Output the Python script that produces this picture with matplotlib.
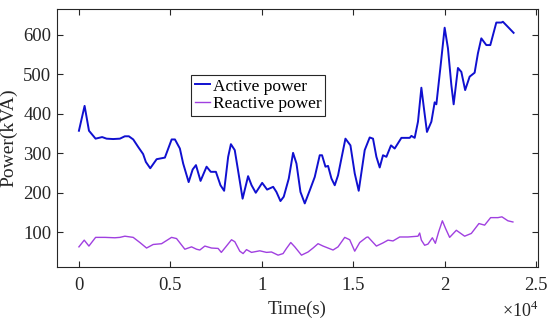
import matplotlib
matplotlib.use("Agg")
import matplotlib.pyplot as plt

plt.rcParams['font.family'] = ['Liberation Serif', 'DejaVu Serif']
plt.rcParams['mathtext.fontset'] = 'custom'
plt.rcParams['mathtext.rm'] = 'Liberation Serif'

active_t = [0, 310, 550, 910, 1270, 1510, 1870, 2240, 2510, 2730, 2970, 3240, 3510,
            3660, 3900, 4250, 4700, 5070, 5250, 5520, 5700, 6000, 6220, 6400, 6650,
            6980, 7210, 7490, 7740, 7940, 8160, 8310, 8520, 8700, 8950, 9250, 9440,
            9670, 10020, 10290, 10620, 10800, 11020, 11200, 11475, 11710, 11895, 12114,
            12349, 12622, 12895, 13168, 13294, 13480, 13622, 13808, 13988, 14168, 14354,
            14573, 14846, 15081, 15299, 15627, 15900, 16081, 16266, 16447, 16627, 16813,
            17064, 17266, 17632, 18086, 18179, 18359, 18540, 18725, 18867, 19031, 19272,
            19452, 19545, 19780, 19998, 20178, 20364, 20490, 20725, 20911, 21119, 21364,
            21637, 21817, 22003, 22276, 22495, 22823, 23096, 23184, 23457, 23768]
active_p = [357, 420, 357, 337, 341, 337, 336, 337, 343, 343, 335, 316, 298,
            278, 262, 285, 289, 335, 335, 312, 274, 227, 259, 270, 230,
            266, 253, 253, 219, 205, 291, 323, 308, 257, 185, 242, 219,
            200, 225, 208, 215, 202, 179, 190, 236, 301, 274, 202,
            173, 206, 240, 295, 295, 266, 268, 236, 219, 244, 287,
            337, 320, 249, 205, 308, 340, 337, 291, 264, 295, 291,
            320, 312, 339, 339, 344, 339, 380, 466, 413, 354, 380,
            429, 424, 523, 618, 566, 473, 424, 516, 506, 460, 494,
            504, 553, 591, 574, 574, 631, 631, 633, 620, 605]

reactive_t = [0, 290, 546, 912, 1421, 1967, 2240, 2513, 2967, 3333, 3699, 4060, 4519,
              4792, 5065, 5338, 5792, 6158, 6431, 6611, 6885, 7251, 7611, 7786, 8032,
              8343, 8524, 8797, 8977, 9163, 9437, 9890, 10256, 10529, 10890, 11163,
              11349, 11584, 11803, 12169, 12529, 12802, 13075, 13349, 13622, 13895,
              14168, 14534, 14807, 15081, 15354, 15720, 15808, 16266, 16627, 16900,
              17173, 17540, 17993, 18540, 18632, 18725, 18905, 19086, 19326, 19490,
              19670, 19873, 20053, 20271, 20637, 21091, 21457, 21872, 22184, 22512,
              22911, 23130, 23457, 23730]
reactive_p = [63, 80, 65, 87, 87, 86, 87, 90, 87, 74, 60, 69, 71,
              79, 87, 84, 57, 63, 57, 55, 65, 60, 59, 49, 63,
              81, 76, 52, 46, 56, 49, 53, 49, 50, 42, 46,
              59, 74, 63, 42, 50, 60, 71, 65, 60, 55,
              63, 87, 81, 52, 74, 87, 88, 65, 73, 80,
              78, 88, 88, 90, 98, 80, 67, 70, 86, 72,
              101, 129, 109, 87, 105, 90, 97, 122, 118, 137,
              137, 139, 129, 126]

x_ticks = [0, 5000, 10000, 15000, 20000, 25000]
x_ticklabels = ['0', '0.5', '1', '1.5', '2', '2.5']
y_ticks = [100, 200, 300, 400, 500, 600]

fig = plt.figure(figsize=(5.5, 3.26), dpi=100)
ax = fig.add_axes([0.1036, 0.181, 0.8745, 0.791])

ax.plot(active_t, active_p, color='#1010D0', lw=1.4, label='Active power')
ax.plot(reactive_t, reactive_p, color='#A040E0', lw=1.0, label='Reactive power')

ax.set_xlim(-1200, 25100)
ax.set_ylim(12, 665)
ax.set_xticks(x_ticks)
ax.set_xticklabels(x_ticklabels)
ax.set_yticks(y_ticks)

dark = '#262626'
for s in ax.spines.values():
    s.set_color(dark)
    s.set_linewidth(0.8)
ax.tick_params(direction='in', top=True, right=True, length=4, width=0.8,
               colors=dark, labelsize=13.5)
ax.tick_params(axis='x', pad=7)
ax.tick_params(axis='y', pad=4)

ax.set_xlabel('Time(s)', fontsize=13.5, color=dark, labelpad=5)
ax.set_ylabel('Power(kVA)', fontsize=14, color=dark, labelpad=4)
ax.text(1.0, -0.13, r'$\times10^{4}$', transform=ax.transAxes, ha='right',
        va='top', fontsize=13, color=dark)

leg = ax.legend(loc='upper left', bbox_to_anchor=(0.279, 0.745), fontsize=12.5,
                frameon=True, fancybox=False, edgecolor=dark, framealpha=1,
                borderpad=0.2, handlelength=0.9, handletextpad=0.15,
                labelspacing=0.1, borderaxespad=0)
leg.get_frame().set_linewidth(0.8)

fig.savefig('out.png', dpi=100)
